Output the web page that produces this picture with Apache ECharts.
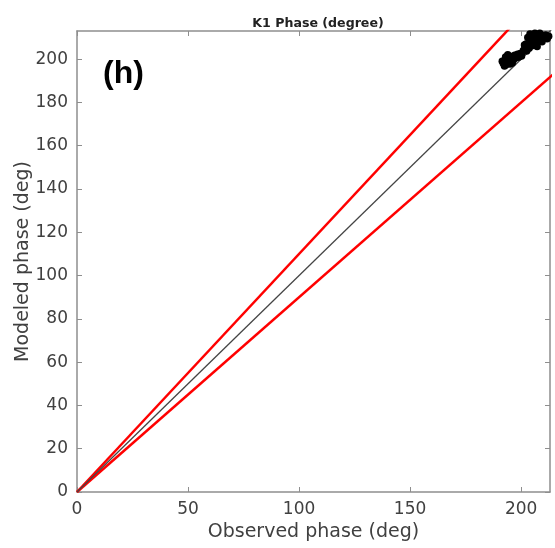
<!DOCTYPE html>
<html>
<head>
<meta charset="utf-8">
<script src="https://cdn.jsdelivr.net/npm/echarts@6/dist/echarts.min.js"></script>
<style>
  html, body { margin: 0; padding: 0; background: #fff; }
  #chart { width: 555px; height: 548px; }
</style>
</head>
<body>
<div id="chart"></div>
<script>
// Axis ranges and ticks
const axisMax = 213;
const xTickStep = 50;
const yTickStep = 20;

// Observed vs modeled K1 phase (deg)
const observedPhase = [
  192.0, 192.6, 193.2, 193.8, 194.4, 195.2, 195.9, 196.5, 197.1, 197.8,
  198.4, 199.0, 199.6, 200.2, 193.0, 195.0, 191.5, 192.5, 194.0, 196.0,
  201.0, 201.8, 202.5, 203.0, 203.6, 204.2, 204.8, 205.4, 205.0, 206.0,
  206.6, 207.2, 207.0, 207.8, 208.4, 208.6, 209.2, 203.8, 206.2, 202.2,
  203.0, 204.0, 207.2, 209.4, 201.5,
  210.2, 211.0, 211.7, 212.4, 213.2
];
const modeledPhase = [
  198.0, 199.5, 197.4, 200.4, 198.6, 199.8, 201.2, 199.6, 201.8, 200.6,
  202.3, 201.0, 202.6, 201.5, 201.0, 197.8, 199.0, 196.8, 202.0, 198.2,
  204.0, 205.2, 203.8, 206.4, 205.0, 207.6, 206.2, 208.8, 210.2, 207.4,
  209.6, 208.2, 211.4, 210.4, 212.0, 209.0, 211.0, 208.8, 212.0, 207.0,
  210.0, 211.6, 205.8, 208.0, 206.5,
  210.0, 211.2, 209.4, 210.6, 209.8
];

// Reference lines: 1:1 and +/-10 % bounds
const refX = [0, 240];
const oneToOneY = [0, 240];
const upperBoundY = [0, 264];
const lowerBoundY = [0, 216];

const pairs = (xs, ys) => xs.map((x, i) => [x, ys[i]]);

const font = 'DejaVu Sans';
const axisLineColor = '#8e8e8e';
const labelColor = '#404040';

// Mirror axes that close the box on the top and right
const boxAxis = (pos, step) => ({
  type: 'value', position: pos, min: 0, max: axisMax, interval: step,
  axisLine: { show: true, onZero: false, lineStyle: { color: axisLineColor, width: 1.5 } },
  axisTick: { show: true, inside: true, length: 5, lineStyle: { color: axisLineColor } },
  axisLabel: { show: false },
  splitLine: { show: false }
});

const chart = echarts.init(document.getElementById('chart'), null, { renderer: 'canvas' });
chart.setOption({
  backgroundColor: '#fff',
  animation: false,
  title: {
    text: 'K1 Phase (degree)',
    left: 313, top: 12, textAlign: 'center',
    textStyle: { fontFamily: font, fontSize: 12.6, fontWeight: 'bold', color: '#222' }
  },
  grid: { left: 77, right: 5, top: 31, bottom: 56, outerBoundsMode: 'none', containLabel: false },
  xAxis: [
    {
      type: 'value', position: 'bottom', min: 0, max: axisMax, interval: xTickStep,
      name: 'Observed phase (deg)', nameLocation: 'middle', nameGap: 31, nameMoveOverlap: false,
      nameTextStyle: { fontFamily: font, fontSize: 19, color: labelColor },
      axisLine: { show: true, onZero: false, lineStyle: { color: axisLineColor, width: 1.5 } },
      axisTick: { show: true, inside: true, length: 5, lineStyle: { color: axisLineColor } },
      axisLabel: { fontFamily: font, fontSize: 17, color: labelColor, margin: 9, showMaxLabel: false },
      splitLine: { show: false }
    },
    boxAxis('top', xTickStep)
  ],
  yAxis: [
    {
      type: 'value', position: 'left', min: 0, max: axisMax, interval: yTickStep,
      name: 'Modeled phase (deg)', nameLocation: 'middle', nameGap: 44, nameMoveOverlap: false,
      nameTextStyle: { fontFamily: font, fontSize: 19, color: labelColor },
      axisLine: { show: true, onZero: false, lineStyle: { color: axisLineColor, width: 1.5 } },
      axisTick: { show: true, inside: true, length: 5, lineStyle: { color: axisLineColor } },
      axisLabel: { fontFamily: font, fontSize: 17, color: labelColor, margin: 9, showMaxLabel: false },
      splitLine: { show: false }
    },
    boxAxis('right', yTickStep)
  ],
  graphic: [{
    type: 'text', left: 103, top: 58,
    style: { text: '(h)', font: 'bold 32px "Liberation Sans"', fill: '#000' }
  }],
  series: [
    {
      name: 'upper', type: 'line', data: pairs(refX, upperBoundY), symbol: 'none',
      lineStyle: { color: '#ff0000', width: 2.5 }, clip: true, z: 2
    },
    {
      name: 'lower', type: 'line', data: pairs(refX, lowerBoundY), symbol: 'none',
      lineStyle: { color: '#ff0000', width: 2.5 }, clip: true, z: 2
    },
    {
      name: 'oneToOne', type: 'line', data: pairs(refX, oneToOneY), symbol: 'none',
      lineStyle: { color: '#444', width: 1.3 }, clip: true, z: 3
    },
    {
      name: 'phase', type: 'scatter', data: pairs(observedPhase, modeledPhase),
      symbol: 'circle', symbolSize: 7.5, itemStyle: { color: '#000', opacity: 1 }, clip: true, z: 4
    }
  ]
});
</script>
</body>
</html>
